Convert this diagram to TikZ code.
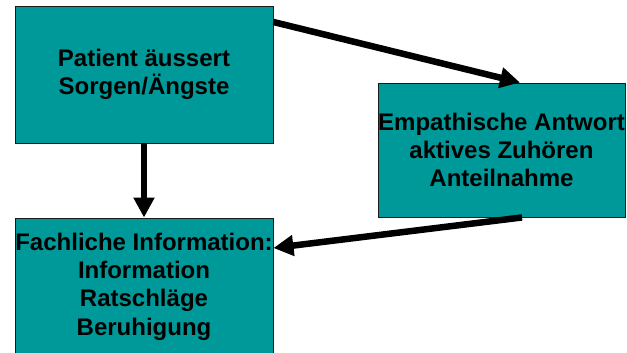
\documentclass[tikz,border=0pt]{standalone}
\usepackage{fontspec}
\setmainfont{Liberation Sans}
\usetikzlibrary{arrows.meta,calc}
\definecolor{boxteal}{RGB}{0,153,153}
\tikzset{
  x=1pt, y=1pt,
  box/.style={draw=black!90, line width=0.9pt, fill=boxteal, inner sep=0pt,
    align=center, font=\bfseries\fontsize{24}{28.3}\selectfont},
  flow/.style={line width=6.5pt, -{Triangle[width=20pt,length=20pt]}}
}
\begin{document}
\begin{tikzpicture}
  \useasboundingbox (0,0) rectangle (627,-353);
  % the three boxes
  \node[box, minimum width=258pt, minimum height=137pt] (patient) at (144,-74.5)
    {Patient äussert\\Sorgen/Ängste};
  \node[box, minimum width=247pt, minimum height=134pt] (empathie) at (501.5,-150)
    {Empathische Antwort\\aktives Zuhören\\Anteilnahme};
  \node[box, minimum width=258pt, minimum height=137pt] (fach) at (144,-286.5)
    {Fachliche Information:\\Information\\Ratschläge\\Beruhigung};
  % arrow attachment points
  \coordinate (p-out) at ($(patient.east)+(0,52.5)$);
  \coordinate (e-in)  at ($(empathie.north)+(18.5,0)$);
  \coordinate (e-out) at ($(empathie.south)+(20.5,0)$);
  \coordinate (f-in)  at ($(fach.east)+(0,38.5)$);
  % connectors
  \draw[flow] (p-out) -- (e-in);
  \draw[flow] (patient.south) -- (fach.north);
  \draw[flow] (e-out) -- (f-in);
\end{tikzpicture}
\end{document}
